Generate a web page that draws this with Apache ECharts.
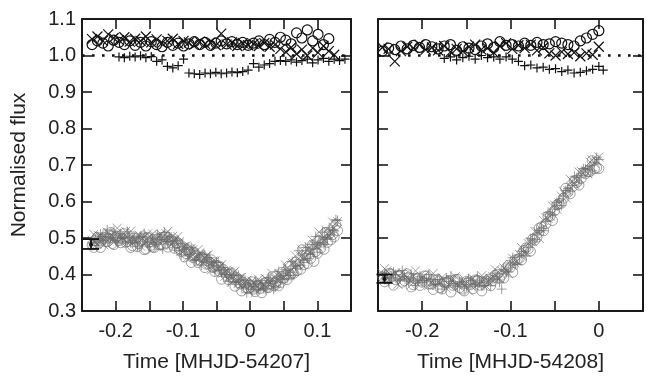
<!DOCTYPE html>
<html>
<head>
<meta charset="utf-8">
<script src="https://cdn.jsdelivr.net/npm/echarts@6/dist/echarts.min.js"></script>
<style>html,body{margin:0;padding:0;background:#fff;}#c{width:646px;height:378px;}</style>
</head>
<body>
<div id="c"></div>
<script>
// ---------- DATA ----------
const xTicksLabel = ['-0.2', '-0.1', '0', '0.1'];
const yTicks = ['0.3','0.4','0.5','0.6','0.7','0.8','0.9','1.0','1.1'];

// Left panel (MHJD-54207), top black series
const timeTopL = [-0.235,-0.227,-0.219,-0.211,-0.203,-0.195,-0.187,-0.179,-0.171,-0.163,
  -0.155,-0.147,-0.139,-0.131,-0.123,-0.115,-0.107,-0.099,-0.091,-0.083,
  -0.075,-0.067,-0.059,-0.051,-0.043,-0.035,-0.027,-0.019,-0.011,-0.003,
  0.005,0.013,0.021,0.029,0.037,0.045,0.053,0.061,0.069,0.077,
  0.085,0.093,0.101,0.109,0.117,0.125,0.133,0.141];
const crossTopL = [1.045,1.052,1.040,1.058,1.048,1.042,1.050,1.038,1.046,1.040,
  1.052,1.036,1.044,1.034,1.040,1.046,1.032,1.040,1.036,1.030,
  1.038,1.032,1.036,1.028,1.060,1.030,1.036,1.026,1.034,1.028,
  1.032,1.026,1.034,1.024,1.030,1.018,1.010,1.022,1.004,1.016,
  1.000,1.020,1.008,1.026,1.012,1.002,null,null];
const circleTopL = [1.030,1.040,1.034,1.026,1.042,1.036,1.030,1.040,1.028,1.036,
  1.026,1.038,1.030,1.024,1.036,1.028,1.034,1.026,1.032,1.038,
  1.030,1.036,1.028,1.034,1.040,1.032,1.038,1.030,1.036,1.028,
  1.034,1.040,1.030,1.044,1.036,1.050,1.042,1.032,1.062,1.048,
  1.070,1.040,1.058,1.030,1.046,null,null,null];
const plusTopL = [null,null,null,null,null,0.996,0.994,0.998,0.996,0.999,
  0.994,0.997,0.984,0.988,0.970,0.966,0.972,0.990,0.952,0.950,
  0.948,0.952,0.950,0.954,0.950,0.952,0.955,0.953,0.956,0.960,
  0.978,0.968,0.974,0.978,0.984,0.986,0.984,0.988,0.982,0.986,
  0.990,0.980,0.988,0.992,0.984,0.990,0.986,0.990];

// Left panel, bottom grey series (two interleaved sample sets)
const timeBotL = [-0.235,-0.230,-0.225,-0.220,-0.215,-0.210,-0.205,-0.200,-0.195,-0.190,
  -0.185,-0.180,-0.175,-0.170,-0.165,-0.160,-0.155,-0.150,-0.145,-0.140,
  -0.135,-0.130,-0.125,-0.120,-0.115,-0.110,-0.105,-0.100,-0.095,-0.090,
  -0.085,-0.080,-0.075,-0.070,-0.065,-0.060,-0.055,-0.050,-0.045,-0.040,
  -0.035,-0.030,-0.025,-0.020,-0.015,-0.010,-0.005,0.000,0.005,0.010,
  0.015,0.020,0.025,0.030,0.035,0.040,0.045,0.050,0.055,0.060,
  0.065,0.070,0.075,0.080,0.085,0.090,0.095,0.100,0.105,0.110,
  0.115,0.120,0.125,0.130];
const crossBotL = [0.494,0.489,0.506,0.502,0.499,0.515,0.497,0.510,0.506,0.501,
  0.518,0.496,0.503,0.492,0.508,0.499,0.489,0.504,0.511,0.493,
  0.506,0.502,0.512,0.497,0.505,0.487,0.490,0.475,0.478,0.462,
  0.468,0.450,0.459,0.441,0.452,0.430,0.437,0.418,0.421,0.404,
  0.412,0.396,0.405,0.385,0.391,0.375,0.384,0.370,0.379,0.366,
  0.380,0.372,0.386,0.378,0.393,0.385,0.401,0.394,0.417,0.410,
  0.432,0.428,0.449,0.446,0.468,0.463,0.482,0.478,0.497,0.495,
  0.511,0.514,0.528,0.545];
const circleBotL = [0.481,0.493,0.486,0.497,0.490,0.499,0.485,0.502,0.493,0.497,
  0.488,0.500,0.479,0.491,0.484,0.496,0.470,0.489,0.475,0.492,
  0.481,0.497,0.486,0.494,0.480,0.486,0.471,0.476,0.457,0.463,
  0.446,0.452,0.439,0.446,0.428,0.433,0.419,0.425,0.408,0.414,
  0.397,0.401,0.386,0.392,0.374,0.379,0.364,0.372,0.360,0.368,
  0.362,0.370,0.365,0.375,0.369,0.382,0.378,0.390,0.386,0.399,
  0.403,0.411,0.414,0.427,0.430,0.444,0.436,0.458,0.472,0.469,
  0.488,0.495,0.503,0.520];
const plusBotL = [0.488,0.497,0.492,0.504,0.495,0.500,0.509,0.493,0.501,0.498,
  0.490,0.505,0.494,0.486,0.500,0.491,0.503,0.476,0.498,0.488,
  0.502,0.470,0.495,0.503,0.490,0.492,0.466,0.484,0.469,0.455,
  0.470,0.441,0.448,0.455,0.437,0.446,0.425,0.433,0.412,0.419,
  0.400,0.392,0.397,0.380,0.385,0.372,0.350,0.376,0.366,0.358,
  0.374,0.362,0.369,0.383,0.360,0.388,0.379,0.397,0.389,0.406,
  0.398,0.417,0.425,0.433,0.444,0.455,0.470,0.461,0.486,0.482,
  0.500,0.509,0.520,0.548];
const timeBotL2 = [-0.2325,-0.2275,-0.2225,-0.2175,-0.2125,-0.2075,-0.2025,-0.1975,-0.1925,-0.1875,
  -0.1825,-0.1775,-0.1725,-0.1675,-0.1625,-0.1575,-0.1525,-0.1475,-0.1425,-0.1375,
  -0.1325,-0.1275,-0.1225,-0.1175,-0.1125,-0.1075,-0.1025,-0.0975,-0.0925,-0.0875,
  -0.0825,-0.0775,-0.0725,-0.0675,-0.0625,-0.0575,-0.0525,-0.0475,-0.0425,-0.0375,
  -0.0325,-0.0275,-0.0225,-0.0175,-0.0125,-0.0075,-0.0025,0.0025,0.0075,0.0125,
  0.0175,0.0225,0.0275,0.0325,0.0375,0.0425,0.0475,0.0525,0.0575,0.0625,
  0.0675,0.0725,0.0775,0.0825,0.0875,0.0925,0.0975,0.1025,0.1075,0.1125,
  0.1175,0.1225,0.1275];
const crossBotL2 = [0.510,0.484,0.505,0.481,0.516,0.506,0.489,0.527,0.496,0.512,
  0.487,0.519,0.493,0.508,0.477,0.503,0.511,0.485,0.500,0.475,
  0.510,0.493,0.518,0.483,0.493,0.504,0.464,0.477,0.447,0.472,
  0.448,0.468,0.436,0.446,0.454,0.413,0.437,0.418,0.427,0.395,
  0.407,0.379,0.409,0.376,0.392,0.372,0.356,0.382,0.373,0.387,
  0.363,0.389,0.373,0.403,0.374,0.402,0.398,0.426,0.404,0.431,
  0.451,0.437,0.467,0.446,0.476,0.494,0.478,0.516,0.498,0.522,
  0.506,0.544,0.540];
const circleBotL2 = [0.474,0.502,0.474,0.502,0.490,0.515,0.482,0.504,0.487,0.512,
  0.490,0.474,0.500,0.476,0.492,0.468,0.502,0.480,0.474,0.498,
  0.482,0.504,0.475,0.496,0.472,0.487,0.463,0.448,0.468,0.433,
  0.451,0.433,0.447,0.419,0.429,0.440,0.408,0.424,0.387,0.406,
  0.386,0.404,0.368,0.386,0.355,0.374,0.361,0.380,0.353,0.370,
  0.350,0.378,0.364,0.394,0.378,0.369,0.406,0.399,0.423,0.404,
  0.434,0.428,0.468,0.453,0.451,0.481,0.463,0.493,0.489,0.515,
  0.511,0.509,0.537];
const plusBotL2 = [0.498,0.480,0.511,0.493,0.522,0.500,0.519,0.487,0.512,0.500,
  0.517,0.487,0.501,0.476,0.505,0.513,0.487,0.497,0.482,0.509,
  0.496,0.515,0.490,0.503,0.473,0.494,0.454,0.473,0.451,0.474,
  0.438,0.458,0.426,0.454,0.432,0.435,0.409,0.434,0.404,0.413,
  0.381,0.399,0.378,0.398,0.364,0.384,0.368,0.352,0.382,0.360,
  0.377,0.358,0.391,0.376,0.366,0.408,0.386,0.414,0.398,0.435,
  0.423,0.465,0.451,0.474,0.458,0.482,0.504,0.488,0.516,0.496,
  0.528,0.522,0.550];

// Right panel (MHJD-54208), top black series
const timeTopR = [-0.245,-0.238,-0.231,-0.224,-0.217,-0.210,-0.203,-0.196,-0.189,-0.182,
  -0.175,-0.168,-0.161,-0.154,-0.147,-0.140,-0.133,-0.126,-0.119,-0.112,
  -0.105,-0.098,-0.091,-0.084,-0.077,-0.070,-0.063,-0.056,-0.049,-0.042,
  -0.035,-0.028,-0.021,-0.014,-0.007,0.000,0.005];
const crossTopR = [1.022,1.018,0.984,1.012,1.024,1.020,1.030,1.016,1.022,1.014,
  1.026,1.010,1.018,1.012,1.024,1.030,1.016,1.020,1.008,1.026,
  1.034,1.018,1.028,1.020,1.030,1.014,1.022,1.006,1.000,1.010,
  1.004,1.008,0.998,1.006,1.002,1.024,null];
const circleTopR = [1.012,1.020,1.016,1.026,1.018,1.028,1.022,1.030,1.024,1.018,
  1.026,1.030,1.014,1.024,1.020,1.016,1.026,1.032,1.022,1.038,
  1.028,1.030,1.026,1.034,1.028,1.036,1.030,1.032,1.038,1.034,
  1.030,1.026,1.040,1.048,1.058,1.068,null];
const plusTopR = [null,null,null,null,null,null,null,null,null,null,
  0.992,0.996,0.988,0.994,0.998,0.990,1.000,0.994,0.996,0.990,
  0.996,0.990,0.984,0.972,0.974,0.966,0.968,0.962,0.964,0.956,
  0.960,0.952,0.954,0.958,0.962,0.970,0.960];

// Right panel, bottom grey series (two interleaved sample sets)
const timeBotR = [-0.245,-0.240,-0.235,-0.230,-0.225,-0.220,-0.215,-0.210,-0.205,-0.200,
  -0.195,-0.190,-0.185,-0.180,-0.175,-0.170,-0.165,-0.160,-0.155,-0.150,
  -0.145,-0.140,-0.135,-0.130,-0.125,-0.120,-0.115,-0.110,-0.105,-0.100,
  -0.095,-0.090,-0.085,-0.080,-0.075,-0.070,-0.065,-0.060,-0.055,-0.050,
  -0.045,-0.040,-0.035,-0.030,-0.025,-0.020,-0.015,-0.010,-0.005,0.000];
const crossBotR = [0.402,0.410,0.398,0.405,0.391,0.399,0.386,0.394,0.381,0.392,
  0.387,0.379,0.390,0.376,0.384,0.372,0.383,0.370,0.381,0.375,
  0.369,0.383,0.376,0.385,0.381,0.394,0.392,0.410,0.411,0.428,
  0.432,0.455,0.460,0.485,0.490,0.518,0.524,0.556,0.560,0.590,
  0.596,0.627,0.630,0.655,0.658,0.683,0.684,0.708,0.705,0.722];
const circleBotR = [0.394,0.388,0.401,0.386,0.397,0.383,0.393,0.372,0.390,0.379,
  0.396,0.374,0.385,0.364,0.378,0.383,0.370,0.387,0.360,0.381,
  0.373,0.385,0.371,0.379,0.387,0.383,0.400,0.398,0.418,0.420,
  0.440,0.444,0.466,0.470,0.497,0.502,0.530,0.539,0.560,0.575,
  0.594,0.609,0.625,0.640,0.652,0.663,0.676,0.682,0.690,0.690];
const plusBotR = [0.399,0.395,0.391,0.400,0.388,0.394,0.382,0.390,0.385,0.378,
  0.389,0.380,0.374,0.386,0.368,0.381,0.375,0.367,0.380,0.372,
  0.383,0.368,0.378,0.370,0.382,0.388,0.395,0.360,0.409,0.426,
  0.431,0.448,0.462,0.474,0.492,0.511,0.527,0.545,0.566,0.579,
  0.601,0.615,0.636,0.644,0.665,0.671,0.690,0.698,0.707,0.715];
const timeBotR2 = [-0.2425,-0.2375,-0.2325,-0.2275,-0.2225,-0.2175,-0.2125,-0.2075,-0.2025,-0.1975,
  -0.1925,-0.1875,-0.1825,-0.1775,-0.1725,-0.1675,-0.1625,-0.1575,-0.1525,-0.1475,
  -0.1425,-0.1375,-0.1325,-0.1275,-0.1225,-0.1175,-0.1125,-0.1075,-0.1025,-0.0975,
  -0.0925,-0.0875,-0.0825,-0.0775,-0.0725,-0.0675,-0.0625,-0.0575,-0.0525,-0.0475,
  -0.0425,-0.0375,-0.0325,-0.0275,-0.0225,-0.0175,-0.0125,-0.0075,-0.0025];
const crossBotR2 = [0.416,0.385,0.401,0.373,0.405,0.392,0.372,0.410,0.378,0.396,
  0.370,0.403,0.378,0.392,0.362,0.386,0.394,0.368,0.381,0.355,
  0.389,0.372,0.397,0.368,0.389,0.414,0.389,0.418,0.403,0.444,
  0.437,0.474,0.461,0.490,0.518,0.499,0.548,0.554,0.588,0.579,
  0.615,0.610,0.661,0.647,0.681,0.678,0.676,0.714,0.712];
const circleBotR2 = [0.380,0.403,0.371,0.395,0.379,0.402,0.366,0.388,0.370,0.396,
  0.374,0.359,0.386,0.360,0.378,0.352,0.386,0.364,0.355,0.379,
  0.361,0.384,0.355,0.382,0.369,0.398,0.389,0.390,0.425,0.406,
  0.441,0.440,0.473,0.464,0.494,0.527,0.520,0.560,0.548,0.591,
  0.595,0.636,0.621,0.657,0.645,0.680,0.682,0.712,0.692];
const plusBotR2 = [0.404,0.381,0.407,0.385,0.411,0.386,0.402,0.370,0.394,0.384,
  0.400,0.371,0.386,0.360,0.390,0.396,0.370,0.380,0.363,0.389,
  0.375,0.394,0.369,0.388,0.369,0.404,0.379,0.414,0.407,0.446,
  0.427,0.464,0.451,0.498,0.496,0.521,0.520,0.570,0.564,0.597,
  0.589,0.630,0.629,0.669,0.653,0.690,0.688,0.684,0.720];

// Representative error bars: [time, centre, low, high]
const errBarL = [[-0.2366, 0.482, 0.470, 0.497]];
const errBarR = [[-0.2427, 0.388, 0.377, 0.400]];

// Axis ranges and titles
const xRangeL = [-0.25, 0.15];
const xRangeR = [-0.25, 0.05];
const yRange = [0.3, 1.1];
const xTitleL = 'Time [MHJD-54207]';
const xTitleR = 'Time [MHJD-54208]';
const yTitle = 'Normalised flux';

// ---------- CHART ----------
const TXT = '#222';
const AX = '#1a1a1a';
const FONT = 'Liberation Sans, Arial, Helvetica, sans-serif';
const pairs = (t, v) => t.map((x, i) => [x, v[i]]).filter(p => p[1] !== null && p[1] !== undefined);

const CROSS = 'path://M0,0L10,10M10,0L0,10';
const PLUS = 'path://M5,0L5,10M0,5L10,5';

function fmtX(v) {
  const k = Math.round(v * 100);
  if (k % 10 !== 0) return '';
  const s = (k / 100).toString();
  return xTicksLabel.indexOf(s) >= 0 ? s : '';
}
function fmtY(v) {
  const s = v.toFixed(1);
  return yTicks.indexOf(s) >= 0 ? s : '';
}

function xAx(grid, range, pos, showLabel, name) {
  return {
    type: 'value', gridIndex: grid, position: pos, min: range[0], max: range[1], interval: 0.05,
    axisLine: { show: true, onZero: false, lineStyle: { color: AX, width: 2 } },
    axisTick: { show: true, inside: true, length: 10, lineStyle: { color: AX, width: 1.6 } },
    axisLabel: { show: showLabel, formatter: fmtX, margin: 10, fontSize: 20, color: TXT, fontFamily: FONT },
    splitLine: { show: false },
    name: name || '', nameLocation: 'middle', nameGap: 41,
    nameTextStyle: { fontSize: 21, color: TXT, fontFamily: FONT }
  };
}
function yAx(grid, pos, showLabel, name) {
  return {
    type: 'value', gridIndex: grid, position: pos, min: yRange[0], max: yRange[1], interval: 0.1,
    axisLine: { show: true, onZero: false, lineStyle: { color: AX, width: 2 } },
    axisTick: { show: true, inside: true, length: 10, lineStyle: { color: AX, width: 1.6 } },
    axisLabel: { show: showLabel, formatter: fmtY, margin: 6, fontSize: 20, color: TXT, fontFamily: FONT },
    splitLine: { show: false },
    name: name || '', nameLocation: 'middle', nameGap: 52, nameRotate: 90,
    nameTextStyle: { fontSize: 21, color: TXT, fontFamily: FONT }
  };
}

function scat(data, grid, sym, size, color, width, z) {
  return {
    type: 'scatter', xAxisIndex: grid * 2, yAxisIndex: grid * 2, data: data,
    symbol: sym, symbolSize: size, silent: true, z: z, large: false,
    itemStyle: { color: 'rgba(0,0,0,0)', borderColor: color, borderWidth: width, opacity: 1 }
  };
}
function dotted(grid) {
  return {
    type: 'line', xAxisIndex: grid * 2, yAxisIndex: grid * 2, data: [], silent: true,
    markLine: {
      silent: true, symbol: 'none', label: { show: false }, animation: false,
      lineStyle: { color: '#111', width: 2.6, type: [2.6, 7.4], cap: 'butt' },
      data: [{ yAxis: 1.0 }]
    }
  };
}
function errBar(data, grid) {
  return {
    type: 'custom', xAxisIndex: grid * 2, yAxisIndex: grid * 2, data: data, silent: true, z: 10,
    renderItem: function (params, api) {
      const t = api.value(0);
      const c = api.coord([t, api.value(1)]);
      const lo = api.coord([t, api.value(2)]);
      const hi = api.coord([t, api.value(3)]);
      const w = 8;
      const st = { stroke: '#111', lineWidth: 1.8 };
      return {
        type: 'group', children: [
          { type: 'line', shape: { x1: lo[0], y1: lo[1], x2: hi[0], y2: hi[1] }, style: st },
          { type: 'line', shape: { x1: lo[0] - w, y1: lo[1], x2: lo[0] + w, y2: lo[1] }, style: st },
          { type: 'line', shape: { x1: hi[0] - w, y1: hi[1], x2: hi[0] + w, y2: hi[1] }, style: st },
          { type: 'circle', shape: { cx: c[0], cy: c[1], r: 2 }, style: { fill: '#111' } }
        ]
      };
    }
  };
}

const GREY = 'rgba(105,105,105,0.62)';
const BLK = '#111';

const chart = echarts.init(document.getElementById('c'), null, { renderer: 'canvas' });
chart.setOption({
  animation: false,
  backgroundColor: '#fff',
  grid: [
    { left: 82, top: 19, width: 269, height: 297 },
    { left: 378, top: 19, width: 267, height: 297 }
  ],
  xAxis: [
    xAx(0, xRangeL, 'bottom', true, xTitleL),
    xAx(0, xRangeL, 'top', false),
    xAx(1, xRangeR, 'bottom', true, xTitleR),
    xAx(1, xRangeR, 'top', false)
  ],
  yAxis: [
    yAx(0, 'left', true, yTitle),
    yAx(0, 'right', false),
    yAx(1, 'left', false),
    yAx(1, 'right', false)
  ],
  series: [
    dotted(0), dotted(1),
    scat(pairs(timeBotL, circleBotL).concat(pairs(timeBotL2, circleBotL2)), 0, 'circle', 10, GREY, 1, 2),
    scat(pairs(timeBotL, crossBotL).concat(pairs(timeBotL2, crossBotL2)), 0, CROSS, 9, GREY, 1, 2),
    scat(pairs(timeBotL, plusBotL).concat(pairs(timeBotL2, plusBotL2)), 0, PLUS, 10, GREY, 1, 2),
    scat(pairs(timeBotR, circleBotR).concat(pairs(timeBotR2, circleBotR2)), 1, 'circle', 10, GREY, 1, 2),
    scat(pairs(timeBotR, crossBotR).concat(pairs(timeBotR2, crossBotR2)), 1, CROSS, 9, GREY, 1, 2),
    scat(pairs(timeBotR, plusBotR).concat(pairs(timeBotR2, plusBotR2)), 1, PLUS, 10, GREY, 1, 2),
    scat(pairs(timeTopL, circleTopL), 0, 'circle', 10, BLK, 1.2, 3),
    scat(pairs(timeTopL, crossTopL), 0, CROSS, 10, BLK, 1.2, 3),
    scat(pairs(timeTopL, plusTopL), 0, PLUS, 9, BLK, 1.2, 3),
    scat(pairs(timeTopR, circleTopR), 1, 'circle', 10, BLK, 1.2, 3),
    scat(pairs(timeTopR, crossTopR), 1, CROSS, 10, BLK, 1.2, 3),
    scat(pairs(timeTopR, plusTopR), 1, PLUS, 9, BLK, 1.2, 3),
    errBar(errBarL, 0), errBar(errBarR, 1)
  ]
});
</script>
</body>
</html>
